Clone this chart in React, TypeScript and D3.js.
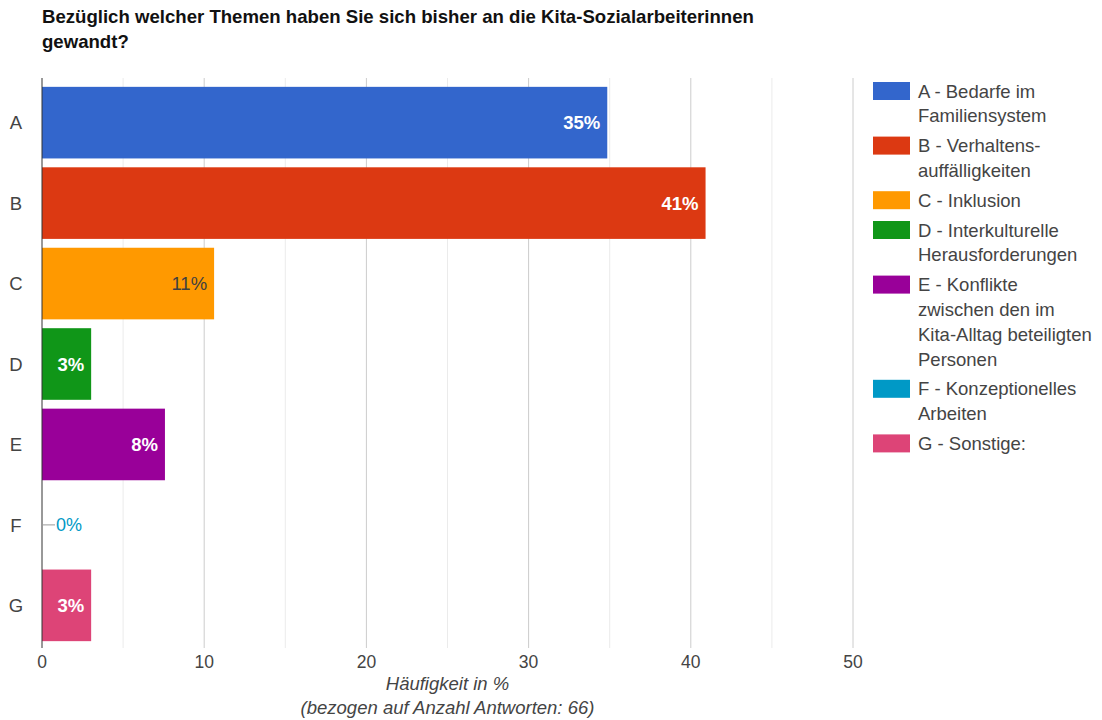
import React from "react";
import * as d3 from "d3";

const title = ["Bezüglich welcher Themen haben Sie sich bisher an die Kita-Sozialarbeiterinnen", "gewandt?"];
const categories = ["A", "B", "C", "D", "E", "F", "G"];
const values = [34.85, 40.91, 10.61, 3.03, 7.58, 0, 3.03];
const valueLabels = ["35%", "41%", "11%", "3%", "8%", "0%", "3%"];
const colors = ["#3366cc", "#dc3912", "#ff9900", "#109618", "#990099", "#0099c6", "#dd4477"];
const legendLabels = [
  ["A - Bedarfe im", "Familiensystem"],
  ["B - Verhaltens-", "auffälligkeiten"],
  ["C - Inklusion"],
  ["D - Interkulturelle", "Herausforderungen"],
  ["E - Konflikte", "zwischen den im", "Kita-Alltag beteiligten", "Personen"],
  ["F - Konzeptionelles", "Arbeiten"],
  ["G - Sonstige:"],
];
const xTicks = [0, 10, 20, 30, 40, 50];
const gridTicks = [5, 10, 15, 20, 25, 30, 35, 40, 45, 50];
const axisTitle = ["Häufigkeit in %", "(bezogen auf Anzahl Antworten: 66)"];

const W = 1102;
const H = 720;
const FONT = "'Liberation Sans', Arial, sans-serif";
const plot = { left: 42, right: 853, top: 78, bottom: 650 };

export default function App() {
  const x = d3.scaleLinear().domain([0, 50]).range([plot.left, plot.right]);
  const y = d3.scaleBand<string>().domain(categories).range([plot.top, plot.bottom]).padding(0.11);
  const bw = y.bandwidth();

  const lineH = 24.8;
  const gap = 5;
  let cur = 91;
  const legendPos = legendLabels.map((lines) => {
    const p = cur;
    cur += lines.length * lineH + gap;
    return p;
  });

  return (
    <div style={{ position: "absolute", left: 0, top: 0 }}>
      <svg width={W} height={H} style={{ display: "block", fontFamily: FONT }}>
        <rect width={W} height={H} fill="#fff" />
        {title.map((t, i) => (
          <text key={i} x={42} y={23 + i * 25} fontSize={18.6} fontWeight="bold" fill="#111">
            {t}
          </text>
        ))}
        {gridTicks.map((t) => (
          <line
            key={t}
            x1={x(t)}
            x2={x(t)}
            y1={plot.top}
            y2={plot.bottom - 2}
            stroke={t % 10 === 0 ? "#cccccc" : "#ebebeb"}
            strokeWidth={1}
          />
        ))}
        {categories.map((c, i) => (
          <rect key={c} x={x(0)} y={y(c)!} width={x(values[i]) - x(0)} height={bw} fill={colors[i]} />
        ))}
        <line x1={x(0)} x2={x(0)} y1={plot.top} y2={plot.bottom - 2} stroke="#333" strokeWidth={1} />
        {categories.map((c, i) => {
          const cy = y(c)! + bw / 2;
          const v = values[i];
          if (v <= 0) {
            return (
              <g key={c}>
                <line x1={x(0)} x2={x(0) + 13} y1={cy} y2={cy} stroke="#999" strokeWidth={1} />
                <text x={x(0) + 14} y={cy} dy="0.36em" fontSize={18} fill={colors[i]}>
                  {valueLabels[i]}
                </text>
              </g>
            );
          }
          const light = d3.lab(colors[i]).l > 65;
          return (
            <text
              key={c}
              x={x(v) - 7}
              y={cy}
              dy="0.36em"
              textAnchor="end"
              fontSize={18.5}
              fontWeight={light ? "normal" : "bold"}
              fill={light ? "#404040" : "#ffffff"}
            >
              {valueLabels[i]}
            </text>
          );
        })}
        {categories.map((c) => (
          <text key={c} x={16} y={y(c)! + bw / 2} dy="0.36em" textAnchor="middle" fontSize={18.5} fill="#444">
            {c}
          </text>
        ))}
        {xTicks.map((t) => (
          <text key={t} x={x(t)} y={668} textAnchor="middle" fontSize={17.5} fill="#444">
            {t}
          </text>
        ))}
        {axisTitle.map((t, i) => (
          <text
            key={i}
            x={(plot.left + plot.right) / 2}
            y={690 + i * 24}
            textAnchor="middle"
            fontSize={18.5}
            fontStyle="italic"
            fill="#444"
          >
            {t}
          </text>
        ))}
        {legendLabels.map((lines, i) => (
          <g key={i}>
            <rect x={873} y={legendPos[i] - 9} width={37} height={18} fill={colors[i]} />
            {lines.map((l, j) => (
              <text key={j} x={918} y={legendPos[i] + j * lineH} dy="0.36em" fontSize={18.5} fill="#444">
                {l}
              </text>
            ))}
          </g>
        ))}
      </svg>
    </div>
  );
}
